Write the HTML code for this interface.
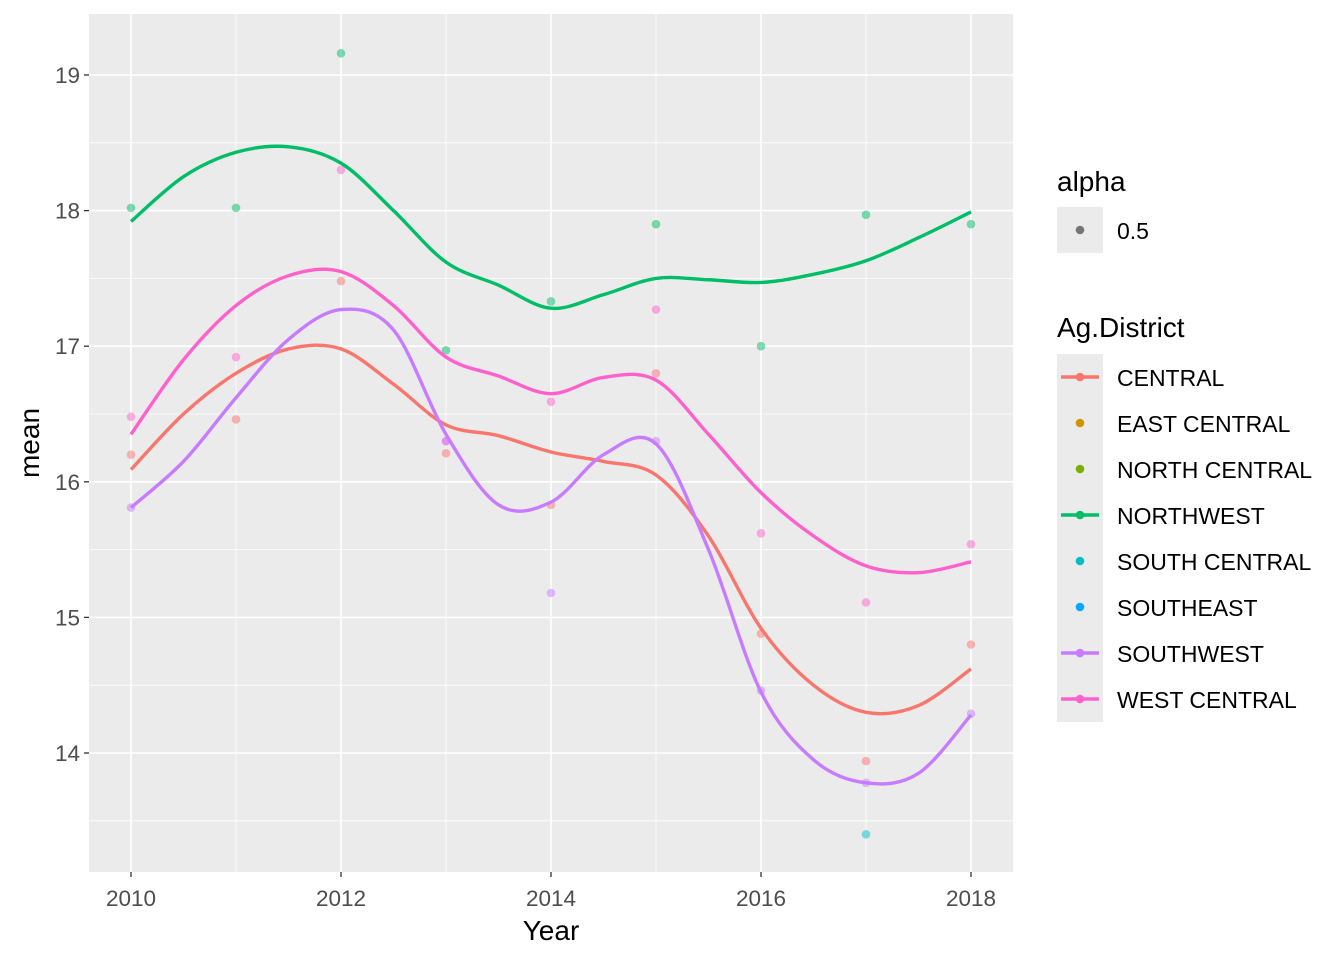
<!DOCTYPE html>
<html><head><meta charset="utf-8"><style>
body{margin:0;background:#fff;}
svg text{font-family:"Liberation Sans",Arial,sans-serif;}
</style></head><body>
<svg id="c" width="1344" height="960" xmlns="http://www.w3.org/2000/svg"></svg>
<script>
const years=[2010,2011,2012,2013,2014,2015,2016,2017,2018];
const nwPts=[18.02,18.02,19.16,16.97,17.33,17.9,17.0,17.97,17.9];
const cenPts=[16.2,16.46,17.48,16.21,15.83,16.8,14.88,13.94,14.8];
const wcPts=[16.48,16.92,18.3,16.3,16.59,17.27,15.62,15.11,15.54];
const swPts=[15.81,null,null,16.3,15.18,16.3,14.46,13.78,14.29];
const scYears=[2017];const scPts=[13.4];
const smX=[2010,2010.5,2011,2011.5,2012,2012.5,2013,2013.5,2014,2014.5,2015,2015.5,2016,2016.5,2017,2017.5,2018];
const nwSm=[17.92,18.25,18.43,18.47,18.35,18.0,17.62,17.45,17.28,17.38,17.5,17.49,17.47,17.53,17.63,17.8,17.99];
const cenSm=[16.09,16.5,16.8,16.98,16.98,16.72,16.42,16.34,16.22,16.15,16.05,15.6,14.92,14.5,14.3,14.35,14.62];
const wcSm=[16.35,16.9,17.3,17.52,17.55,17.3,16.92,16.78,16.65,16.77,16.75,16.35,15.92,15.6,15.38,15.33,15.41];
const swSm=[15.81,16.15,16.62,17.05,17.27,17.12,16.35,15.83,15.85,16.2,16.28,15.5,14.45,13.95,13.78,13.85,14.28];
const yTicks=[14,15,16,17,18,19];
const xTicks=[2010,2012,2014,2016,2018];
const legendNames=["CENTRAL","EAST CENTRAL","NORTH CENTRAL","NORTHWEST","SOUTH CENTRAL","SOUTHEAST","SOUTHWEST","WEST CENTRAL"];
const legendCols=["#F8766D","#CD9600","#7CAE00","#00BE67","#00BFC4","#00A9FF","#C77CFF","#FF61CC"];
const legendLine=[1,0,0,1,0,0,1,1];

const svg=document.getElementById('c');const NS="http://www.w3.org/2000/svg";
const L=89,R=1013,T=14,B=872;
const X=v=>131+(v-2010)*105;
const Y=v=>753-(v-14)*135.6;
function mk(tag,at,name,parent){const e=document.createElementNS(NS,tag);for(const k in at)e.setAttribute(k,at[k]);


(parent||svg).appendChild(e);return e;}
mk('rect',{x:L,y:T,width:R-L,height:B-T,fill:'#EBEBEB'},'plot-panel');
for(let v=13.5;v<=19.5;v+=1){if(Y(v)>T&&Y(v)<B)mk('line',{x1:L,x2:R,y1:Y(v),y2:Y(v),stroke:'#fff','stroke-width':0.8},'minor-gridline-y');}
for(let v=2011;v<=2017;v+=2)mk('line',{x1:X(v),x2:X(v),y1:T,y2:B,stroke:'#fff','stroke-width':0.8},'minor-gridline-x');
yTicks.forEach(v=>{mk('line',{x1:L,x2:R,y1:Y(v),y2:Y(v),stroke:'#fff','stroke-width':1.6},'gridline-y');
mk('line',{x1:L-5,x2:L,y1:Y(v),y2:Y(v),stroke:'#333','stroke-width':1.3},'y-tick');
const t=mk('text',{x:L-9,y:Y(v)+8,'text-anchor':'end','font-size':22.5,fill:'#4D4D4D'},'y-tick-label');t.textContent=v;});
xTicks.forEach(v=>{mk('line',{x1:X(v),x2:X(v),y1:B,y2:B+5,stroke:'#333','stroke-width':1.3},'x-tick');
mk('line',{x1:X(v),x2:X(v),y1:T,y2:B,stroke:'#fff','stroke-width':1.6},'gridline-x');
const t=mk('text',{x:X(v),y:B+34,'text-anchor':'middle','font-size':22.5,fill:'#4D4D4D'},'x-tick-label');t.textContent=v;});
let t=mk('text',{x:551,y:940,'text-anchor':'middle','font-size':28,fill:'#000'},'x-axis-title');t.textContent='Year';
t=mk('text',{x:0,y:0,'text-anchor':'middle','font-size':28,fill:'#000',transform:'translate(39,443) rotate(-90)'},'y-axis-title');t.textContent='mean';
function pts(xs,vs,col,name){vs.forEach((v,i)=>{if(v==null)return;mk('circle',{cx:X(xs[i]),cy:Y(v),r:4.3,fill:col,'fill-opacity':0.5},name);});}
pts(years,cenPts,'#F8766D','central-point');pts(years,nwPts,'#00BE67','northwest-point');
pts(years,wcPts,'#FF61CC','westcentral-point');pts(years,swPts,'#C77CFF','southwest-point');pts(scYears,scPts,'#00BFC4','southcentral-point');
function curve(xs,vs,col,name){const p=xs.map((x,i)=>[X(x),Y(vs[i])]);let d=`M${p[0][0]},${p[0][1]}`;
for(let i=0;i<p.length-1;i++){const p0=p[i-1]||p[i],p1=p[i],p2=p[i+1],p3=p[i+2]||p2;
d+=` C${p1[0]+(p2[0]-p0[0])/6},${p1[1]+(p2[1]-p0[1])/6} ${p2[0]-(p3[0]-p1[0])/6},${p2[1]-(p3[1]-p1[1])/6} ${p2[0]},${p2[1]}`;}
mk('path',{d:d,fill:'none',stroke:col,'stroke-width':3.4},name);}
curve(smX,cenSm,'#F8766D','central-smooth');curve(smX,nwSm,'#00BE67','northwest-smooth');
curve(smX,swSm,'#C77CFF','southwest-smooth');curve(smX,wcSm,'#FF61CC','westcentral-smooth');
t=mk('text',{x:1057,y:191,'font-size':28},'legend-alpha-title');t.textContent='alpha';
mk('rect',{x:1057,y:207,width:46,height:46,fill:'#EBEBEB'},'legend-alpha-key');
mk('circle',{cx:1080,cy:230,r:4.3,fill:'#000','fill-opacity':0.5},'legend-alpha-dot');
t=mk('text',{x:1117,y:239,'font-size':23},'legend-alpha-label');t.textContent='0.5';
t=mk('text',{x:1057,y:337,'font-size':28},'legend-district-title');t.textContent='Ag.District';
mk('rect',{x:1057,y:354,width:46,height:368,fill:'#EBEBEB'},'legend-district-keys');
legendNames.forEach((n,i)=>{const cy=377+i*46;
if(legendLine[i])mk('line',{x1:1061,x2:1099,y1:cy,y2:cy,stroke:legendCols[i],'stroke-width':3.4},'legend-line');
mk('circle',{cx:1080,cy:cy,r:4.3,fill:legendCols[i]},'legend-dot');
const tt=mk('text',{x:1117,y:cy+9,'font-size':23},'legend-entry');tt.textContent=n;});
</script>
</body></html>
